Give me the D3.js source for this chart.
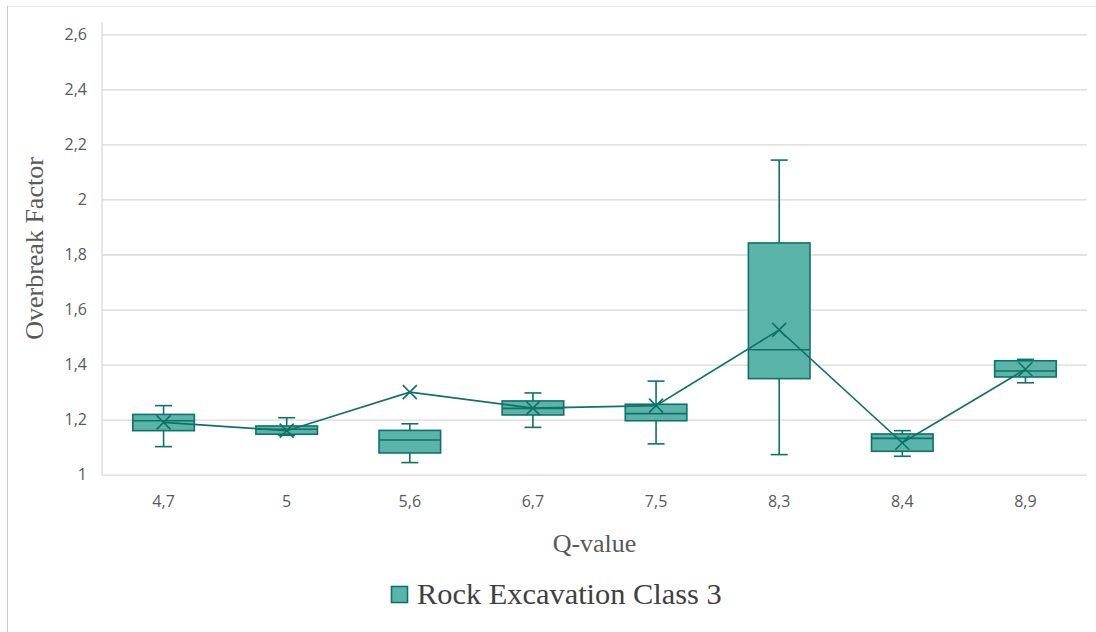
<!DOCTYPE html>
<html>
<head>
<meta charset="utf-8">
<script src="https://cdn.jsdelivr.net/npm/d3@7"></script>
<style>
  html, body { margin: 0; padding: 0; background: #fff; }
  svg { display: block; }
</style>
</head>
<body>
<svg id="chart" width="1096" height="632"></svg>
<script>
const categories = ["4,7", "5", "5,6", "6,7", "7,5", "8,3", "8,4", "8,9"];
const mins    = [1.102, 1.143, 1.044, 1.172, 1.112, 1.073, 1.067, 1.334];
const q1s     = [1.160, 1.147, 1.079, 1.217, 1.196, 1.349, 1.085, 1.355];
const medians = [1.196, 1.165, 1.126, 1.241, 1.222, 1.454, 1.132, 1.377];
const q3s     = [1.219, 1.177, 1.161, 1.268, 1.256, 1.842, 1.148, 1.414];
const maxs    = [1.251, 1.207, 1.185, 1.297, 1.340, 2.143, 1.160, 1.419];
const means   = [1.190, 1.160, 1.300, 1.242, 1.251, 1.526, 1.116, 1.383];
const yTicks  = [1, 1.2, 1.4, 1.6, 1.8, 2, 2.2, 2.4, 2.6];
const seriesName = "Rock Excavation Class 3";
const xTitle = "Q-value";
const yTitle = "Overbreak Factor";

const fillC = "#5BB4A9", strokeC = "#0F7266", gridC = "#D9D9D9", textC = "#595959";

const svg = d3.select("#chart");
const x = d3.scaleBand().domain(categories).range([102, 1087]).padding(0);
const y = d3.scaleLinear().domain([1, 2.6]).range([474.7, 34.3]);
const fmt = v => d3.format(".1~f")(v).replace(".", ",");

// outer frame
svg.append("line").attr("x1", 7).attr("x2", 1096).attr("y1", 6.5).attr("y2", 6.5)
  .attr("stroke", "#EDEDED").attr("stroke-width", 1);
svg.append("line").attr("x1", 7.5).attr("x2", 7.5).attr("y1", 6).attr("y2", 632)
  .attr("stroke", "#C8C8C8").attr("stroke-width", 1);

// gridlines + y labels via axis
const yAxis = d3.axisLeft(y).tickValues(yTicks).tickFormat(fmt).tickSize(-(1087 - 102)).tickPadding(15);
const gy = svg.append("g").attr("transform", "translate(102,0)").call(yAxis);
gy.select(".domain").remove();
gy.selectAll(".tick line").attr("stroke", gridC).attr("stroke-width", 1.3);
gy.selectAll(".tick text").attr("fill", textC).attr("font-family", "Open Sans, sans-serif")
  .attr("font-size", "16px");

// vertical axis line
svg.append("line").attr("x1", 102).attr("x2", 102).attr("y1", 22).attr("y2", y(1))
  .attr("stroke", gridC).attr("stroke-width", 1.3);

// x labels via axis
const xAxis = d3.axisBottom(x).tickSize(0).tickPadding(21);
const gx = svg.append("g").attr("transform", `translate(0,${y(1)})`).call(xAxis);
gx.select(".domain").remove();
gx.selectAll(".tick text").attr("fill", textC).attr("font-family", "Open Sans, sans-serif")
  .attr("font-size", "16px");

const data = categories.map((c, i) => ({ c, min: mins[i], q1: q1s[i], med: medians[i], q3: q3s[i], max: maxs[i], mean: means[i] }));
const bw = x.bandwidth() * 0.5;
const capW = 17;
const cx = d => x(d.c) + x.bandwidth() / 2;

const g = svg.append("g");
const boxes = g.selectAll("g.box").data(data).join("g").attr("class", "box");
// whiskers
boxes.append("line").attr("x1", cx).attr("x2", cx).attr("y1", d => y(d.max)).attr("y2", d => y(d.q3))
  .attr("stroke", strokeC).attr("stroke-width", 1.6);
boxes.append("line").attr("x1", cx).attr("x2", cx).attr("y1", d => y(d.min)).attr("y2", d => y(d.q1))
  .attr("stroke", strokeC).attr("stroke-width", 1.6);
boxes.append("line").attr("x1", d => cx(d) - capW / 2).attr("x2", d => cx(d) + capW / 2)
  .attr("y1", d => y(d.max)).attr("y2", d => y(d.max)).attr("stroke", strokeC).attr("stroke-width", 1.6);
boxes.append("line").attr("x1", d => cx(d) - capW / 2).attr("x2", d => cx(d) + capW / 2)
  .attr("y1", d => y(d.min)).attr("y2", d => y(d.min)).attr("stroke", strokeC).attr("stroke-width", 1.6);
// box
boxes.append("rect").attr("x", d => cx(d) - bw / 2).attr("width", bw)
  .attr("y", d => y(d.q3)).attr("height", d => y(d.q1) - y(d.q3))
  .attr("fill", fillC).attr("stroke", strokeC).attr("stroke-width", 1.6);
// median
boxes.append("line").attr("x1", d => cx(d) - bw / 2).attr("x2", d => cx(d) + bw / 2)
  .attr("y1", d => y(d.med)).attr("y2", d => y(d.med)).attr("stroke", strokeC).attr("stroke-width", 1.6);

// mean line
const line = d3.line().x(cx).y(d => y(d.mean));
g.append("path").datum(data).attr("d", line).attr("fill", "none")
  .attr("stroke", strokeC).attr("stroke-width", 1.6);

// mean markers (X)
const m = 7;
boxes.append("path")
  .attr("d", d => { const X = cx(d), Y = y(d.mean); return `M${X - m},${Y - m}L${X + m},${Y + m}M${X - m},${Y + m}L${X + m},${Y - m}`; })
  .attr("stroke", strokeC).attr("stroke-width", 1.6).attr("fill", "none");

// axis titles
svg.append("text").attr("x", (102 + 1087) / 2).attr("y", 552).attr("text-anchor", "middle")
  .attr("font-family", "Liberation Serif, Times New Roman, serif").attr("font-size", "26px")
  .attr("fill", textC).text(xTitle);
svg.append("text").attr("transform", `translate(43,${(34 + 475) / 2 - 6}) rotate(-90)`).attr("text-anchor", "middle")
  .attr("font-family", "Liberation Serif, Times New Roman, serif").attr("font-size", "26px")
  .attr("fill", textC).text(yTitle);

// legend
const lg = svg.append("g");
lg.append("rect").attr("x", 391.5).attr("y", 586.5).attr("width", 16).attr("height", 16)
  .attr("fill", fillC).attr("stroke", strokeC).attr("stroke-width", 1.6);
lg.append("text").attr("x", 417).attr("y", 604)
  .attr("font-family", "Liberation Serif, Times New Roman, serif").attr("font-size", "30.4px")
  .attr("fill", "#404040").text(seriesName);
</script>
</body>
</html>
